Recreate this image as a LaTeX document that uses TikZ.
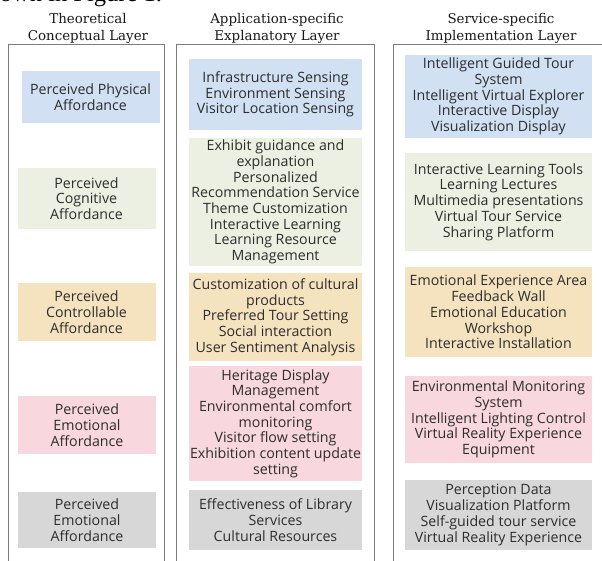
\documentclass[tikz,border=0pt]{standalone}
\usepackage{fontspec}
\setmainfont{Open Sans}
\newfontfamily\headfont{DejaVu Serif}
\newfontfamily\leadfont{Liberation Serif}
\usepackage{xcolor}

\definecolor{physblue}{RGB}{209,224,242}
\definecolor{cogngreen}{RGB}{236,240,227}
\definecolor{ctrlyellow}{RGB}{245,227,191}
\definecolor{emopink}{RGB}{248,215,222}
\definecolor{restgray}{RGB}{215,215,215}
\definecolor{framegray}{RGB}{125,125,125}
\definecolor{inkgray}{RGB}{45,45,45}

\begin{document}
\begin{tikzpicture}[
  x=1pt, y=-1pt,
  layerframe/.style={draw=framegray, line width=0.9pt},
  layertitle/.style={align=center, inner sep=0pt, text=black!90, font=\headfont\fontsize{13.4}{17}\selectfont},
  cell/.style={fill=#1, text=inkgray, align=center, inner sep=0pt, font=\fontsize{14.2}{15.7}\selectfont},
  leftcell/.style={cell=#1, minimum width=138pt},
  midcell/.style={cell=#1, minimum width=173pt},
  rightcell/.style={cell=#1, minimum width=187pt}
]
\useasboundingbox (0,0) rectangle (602,561);
\clip (0,0) rectangle (602,561);

% running text above the figure, cut off at the top
\node[anchor=base west, inner sep=0pt, font=\leadfont\fontsize{24.5}{24.5}\selectfont] (lead) at (-22,2) {shown in Figure 1.};

% layer headings
\node[layertitle] (tc) at (88,28) {Theoretical\\Conceptual Layer};
\node[layertitle] (ae) at (277,28) {Application-specific\\Explanatory Layer};
\node[layertitle] (si) at (501,28) {Service-specific\\Implementation Layer};

% layer frames (open at the bottom edge)
\draw[layerframe] (8,575) -- (8,44) -- (164,44) -- (164,575);
\draw[layerframe] (176,575) -- (176,44) -- (374,44) -- (374,575);
\draw[layerframe] (393,575) -- (393,44) -- (610,44);

% theoretical conceptual layer
\node[leftcell=physblue, minimum height=52pt] (tc1) at (90.5,97) {Perceived Physical\\Affordance};
\node[leftcell=cogngreen, minimum height=61pt] (tc2) at (86.5,198.5) {Perceived\\Cognitive\\Affordance};
\node[leftcell=ctrlyellow, minimum height=58pt] (tc3) at (86.5,312) {Perceived\\Controllable\\Affordance};
\node[leftcell=emopink, minimum height=58pt] (tc4) at (87,425) {Perceived\\Emotional\\Affordance};
\node[leftcell=restgray, minimum height=56pt] (tc5) at (87,520) {Perceived\\Emotional\\Affordance};

% application-specific explanatory layer
\node[midcell=physblue, minimum height=71pt] (ae1) at (275.5,94.5) {Infrastructure Sensing\\Environment Sensing\\Visitor Location Sensing};
\node[midcell=cogngreen, minimum height=128pt] (ae2) at (275.5,202) {Exhibit guidance and\\explanation\\Personalized\\Recommendation Service\\Theme Customization\\Interactive Learning\\Learning Resource\\Management};
\node[midcell=ctrlyellow, minimum height=88pt] (ae3) at (275.5,317) {Customization of cultural\\products\\Preferred Tour Setting\\Social interaction\\User Sentiment Analysis};
\node[midcell=emopink, minimum height=115pt] (ae4) at (275.5,423.5) {Heritage Display\\Management\\Environmental comfort\\monitoring\\Visitor flow setting\\Exhibition content update\\setting};
\node[midcell=restgray, minimum height=60pt] (ae5) at (275.5,520) {Effectiveness of Library\\Services\\Cultural Resources};

% service-specific implementation layer
\node[rightcell=physblue, minimum height=83pt] (si1) at (498.5,96.5) {Intelligent Guided Tour\\System\\Intelligent Virtual Explorer\\Interactive Display\\Visualization Display};
\node[rightcell=cogngreen, minimum height=98pt] (si2) at (498.5,202) {Interactive Learning Tools\\Learning Lectures\\Multimedia presentations\\Virtual Tour Service\\Sharing Platform};
\node[rightcell=ctrlyellow, minimum height=90pt] (si3) at (498.5,312) {Emotional Experience Area\\Feedback Wall\\Emotional Education\\Workshop\\Interactive Installation};
\node[rightcell=emopink, minimum height=87pt] (si4) at (498.5,419.5) {Environmental Monitoring\\System\\Intelligent Lighting Control\\Virtual Reality Experience\\Equipment};
\node[rightcell=restgray, minimum height=70pt] (si5) at (498.5,515) {Perception Data\\Visualization Platform\\Self-guided tour service\\Virtual Reality Experience};
\end{tikzpicture}
\end{document}
